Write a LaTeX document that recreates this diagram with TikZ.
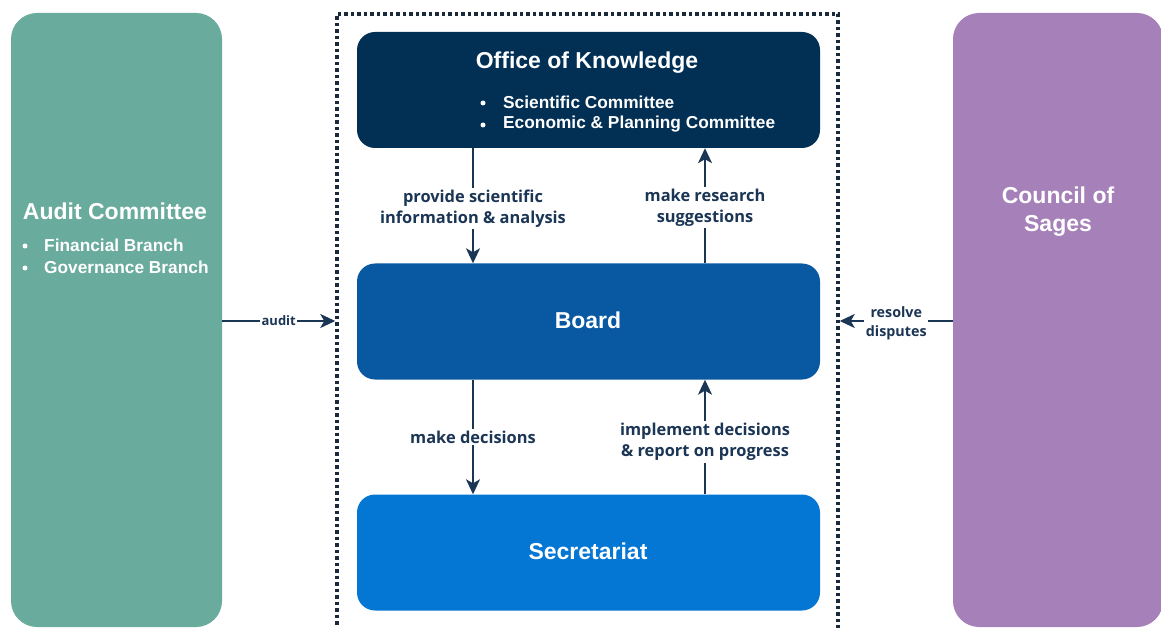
\documentclass[tikz,border=0pt]{standalone}
\usepackage{fontspec}
\setmainfont{Liberation Sans}
\newfontfamily\lblfont{Open Sans}
\usetikzlibrary{arrows.meta}

\definecolor{auditgreen}{HTML}{69AB9C}
\definecolor{sagepurple}{HTML}{A680B8}
\definecolor{officenavy}{HTML}{022F54}
\definecolor{boardblue}{HTML}{0859A2}
\definecolor{secblue}{HTML}{0377D3}
\definecolor{inkblue}{HTML}{1B3555}
\definecolor{framedark}{HTML}{1A2A3C}

\tikzset{
  sidebox/.style={rectangle, rounded corners=26pt, draw=none, minimum width=#1, minimum height=614pt, inner sep=0pt},
  unitbox/.style={rectangle, rounded corners=18pt, draw=none, fill=#1, minimum width=463pt, minimum height=116pt, inner sep=0pt},
  boxtitle/.style={text=white, font=\bfseries\fontsize{23}{27}\selectfont, align=center},
  boxitem/.style={text=white, font=\bfseries\fontsize{17.3}{22}\selectfont, anchor=west, inner sep=0pt},
  itemdot/.style={circle, fill=white, minimum size=5pt, inner sep=0pt},
  flow/.style={draw=inkblue, line width=1.8pt, -{Stealth[length=15pt, width=14pt, inset=4pt]}},
  flowlabel/.style={fill=white, text=inkblue, font=\lblfont\bfseries\fontsize{16.4}{21}\selectfont, align=center, inner sep=2pt},
  sidelabel/.style={fill=white, text=inkblue, font=\lblfont\bfseries\fontsize{14.3}{19}\selectfont, align=center, inner sep=1.5pt},
}

\begin{document}
\begin{tikzpicture}[x=1pt, y=-1pt]
\useasboundingbox (0,0) rectangle (1161,628);
\clip (0,0) rectangle (1161,628);

% outer bodies on both sides
\node[sidebox=211pt, fill=auditgreen] (audit) at (116.5,320) {};
\node[sidebox=210pt, fill=sagepurple] (council) at (1058,320) {};

% dotted frame round the central units
\node[rectangle, draw=framedark, line width=3.5pt, dash pattern=on 3.5pt off 3pt,
      minimum width=501pt, minimum height=640pt, inner sep=0pt] (frame) at (587.5,334) {};

% central units
\node[unitbox=officenavy] (office) at (588.5,90) {};
\node[unitbox=boardblue] (board) at (588.5,321.5) {};
\node[unitbox=secblue] (secretariat) at (588.5,552.5) {};

% texts of the units
\node[boxtitle] (officetitle) at (587,63) {Office of Knowledge};
\node[itemdot] (officedota) at (483,103) {};
\node[itemdot] (officedotb) at (483,125) {};
\node[boxitem] (officebulleta) at (503,102) {Scientific Committee};
\node[boxitem] (officebulletb) at (503,124) {Economic \& Planning Committee};
\node[boxtitle] (boardtitle) at (588,320) {Board};
\node[boxtitle] (sectitle) at (588,551) {Secretariat};

\node[boxtitle] (audittitle) at (115,211) {Audit Committee};
\node[itemdot] (auditdota) at (25,246) {};
\node[itemdot] (auditdotb) at (25,268) {};
\node[boxitem] (auditbulleta) at (44,245) {Financial Branch};
\node[boxitem] (auditbulletb) at (44,267) {Governance Branch};

\node[boxtitle, font=\bfseries\fontsize{23}{28}\selectfont] (counciltitle) at (1058,212) {Council of\\Sages};

% flows between the units
\draw[flow] ([xshift=-115.5pt]office.south) -- node[flowlabel, yshift=-3pt] (lblprovide) {provide scientific\\information \& analysis} ([xshift=-115.5pt]board.north);
\draw[flow] ([xshift=116.5pt]board.north) -- node[flowlabel, yshift=-2pt] (lblresearch) {make research\\suggestions} ([xshift=116.5pt]office.south);
\draw[flow] ([xshift=-115.5pt]board.south) -- node[flowlabel] (lbldecide) {make decisions} ([xshift=-115.5pt]secretariat.north);
\draw[flow] ([xshift=116.5pt]secretariat.north) -- node[flowlabel, yshift=-5pt] (lblimplement) {implement decisions\\\& report on progress} ([xshift=116.5pt]board.south);

% flows from the outer bodies
\coordinate (auditend) at (frame.west |- 0,321);
\coordinate (auditstart) at (audit.east |- 0,321);
\coordinate (councilend) at (frame.east |- 0,321);
\coordinate (councilstart) at (council.west |- 0,321);
\draw[flow] (auditstart) -- node[sidelabel, font=\lblfont\bfseries\fontsize{13}{18}\selectfont] (lblaudit) {audit} (auditend);
\draw[flow] (councilstart) -- node[sidelabel, yshift=-2pt] (lblresolve) {resolve\\disputes} (councilend);
\end{tikzpicture}
\end{document}
